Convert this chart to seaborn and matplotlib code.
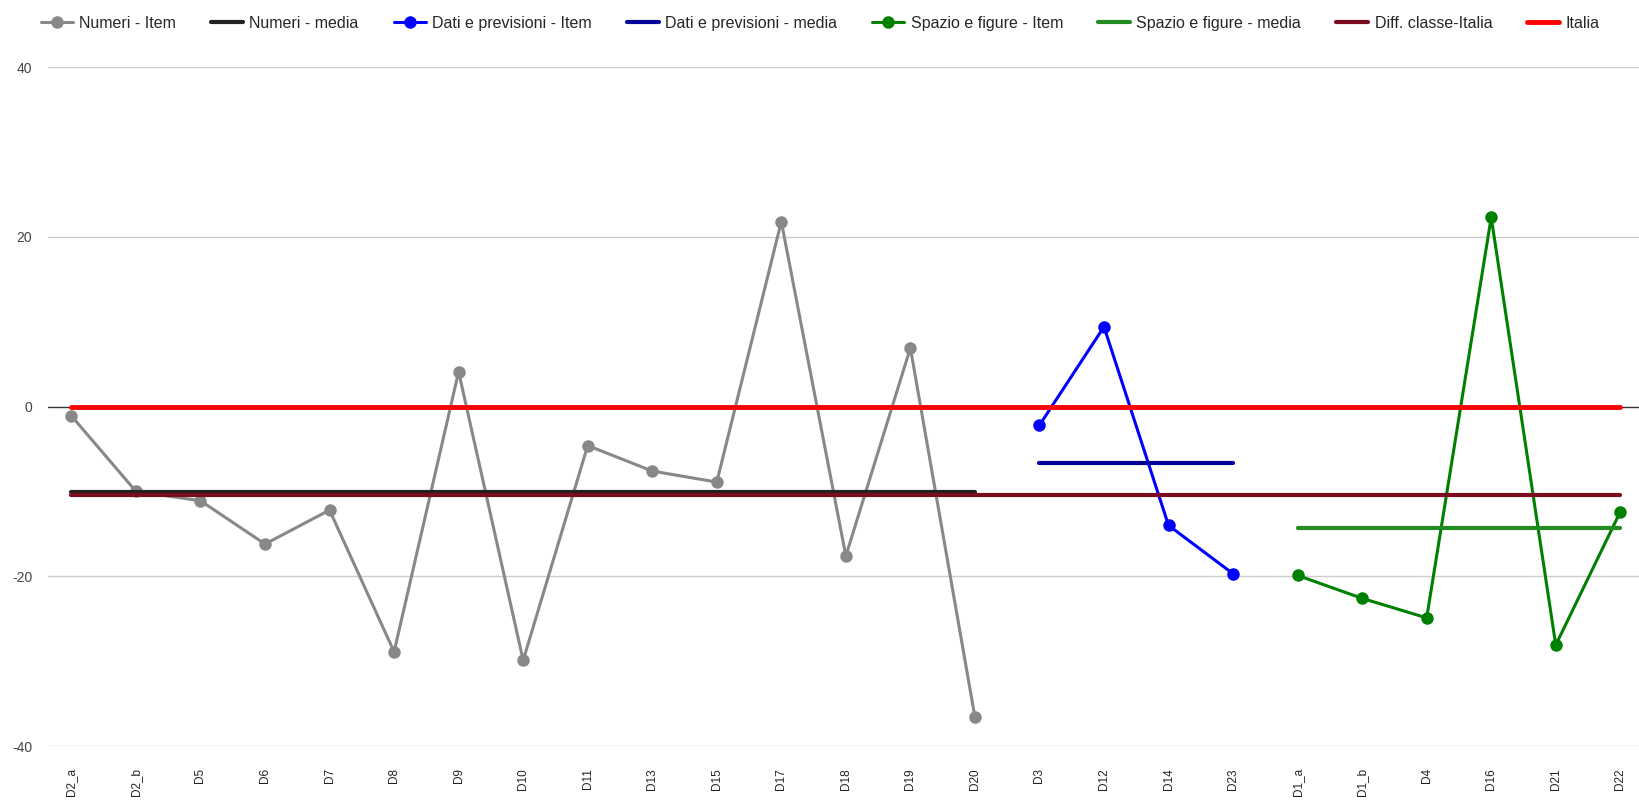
import matplotlib
matplotlib.use("Agg")
import matplotlib.pyplot as plt
import seaborn as sns
import pandas as pd

# item labels in chart order
numeri_items = ["D2_a", "D2_b", "D5", "D6", "D7", "D8", "D9", "D10", "D11",
                "D13", "D15", "D17", "D18", "D19", "D20"]
dati_items = ["D3", "D12", "D14", "D23"]
spazio_items = ["D1_a", "D1_b", "D4", "D16", "D21", "D22"]
categories = numeri_items + dati_items + spazio_items

# values
numeri_vals = [-1.1, -10.0, -11.1, -16.2, -12.2, -28.9, 4.1, -29.9, -4.6,
               -7.6, -8.9, 21.8, -17.6, 6.9, -36.6]
dati_vals = [-2.2, 9.4, -14.0, -19.7]
spazio_vals = [-19.9, -22.6, -24.9, 22.3, -28.1, -12.4]
numeri_media = -10.1
dati_media = -6.6
spazio_media = -14.3
diff_classe_italia = -10.4
italia = 0.0

pos = {c: i for i, c in enumerate(categories)}


def frame(items, vals):
    return pd.DataFrame({"x": [pos[c] for c in items], "y": vals})


def flat(items, v):
    return frame([items[0], items[-1]], [v, v])


sns.set_style("white")
plt.rcParams["font.family"] = ["Liberation Sans Narrow", "Liberation Sans", "DejaVu Sans"]
plt.rcParams["axes.unicode_minus"] = False

fig, ax = plt.subplots(figsize=(16.39, 8.08), dpi=100)
fig.subplots_adjust(left=0.029, right=1.0, bottom=0.0767, top=0.917)

for v in [-40, -20, 20, 40]:
    ax.axhline(v, color="#cccccc", lw=1, zorder=0)
ax.axhline(0, color="#333333", lw=1, zorder=0)

series = [
    ("Numeri - Item", frame(numeri_items, numeri_vals), "#888888", 2.2, "o"),
    ("Numeri - media", flat(numeri_items, numeri_media), "#222222", 3, None),
    ("Dati e previsioni - Item", frame(dati_items, dati_vals), "#0000ff", 2.2, "o"),
    ("Dati e previsioni - media", flat(dati_items, dati_media), "#000099", 3, None),
    ("Spazio e figure - Item", frame(spazio_items, spazio_vals), "#008000", 2.2, "o"),
    ("Spazio e figure - media", flat(spazio_items, spazio_media), "#228b22", 3, None),
    ("Diff. classe-Italia", flat(categories, diff_classe_italia), "#7b0c1f", 3, None),
    ("Italia", flat(categories, italia), "#ff0000", 3.5, None),
]

for name, df, color, lw, mk in series:
    sns.lineplot(data=df, x="x", y="y", ax=ax, color=color, lw=lw,
                 marker=mk, markersize=9 if mk else 0,
                 markeredgewidth=0, label=name, legend=False)

ax.set_xlim(-0.37, 24.29)
ax.set_ylim(-40, 40)
ax.set_yticks([-40, -20, 0, 20, 40])
ax.set_xticks(range(len(categories)))
ax.set_xticklabels(categories, rotation=90, va="top", ha="center")
ax.tick_params(axis="x", length=0, pad=16, labelsize=8.5, labelcolor="#222222")
ax.tick_params(axis="y", length=0, pad=11, labelsize=10, labelcolor="#444444")
ax.set_xlabel("")
ax.set_ylabel("")
sns.despine(ax=ax, left=True, bottom=True)

handles, labels = ax.get_legend_handles_labels()
fig.legend(handles, labels, loc="upper left", bbox_to_anchor=(0.016, 0.998),
           ncol=8, frameon=False, fontsize=11.5, handlelength=2.0,
           handletextpad=0.4, columnspacing=2.2)

fig.savefig("out.png", dpi=100)
